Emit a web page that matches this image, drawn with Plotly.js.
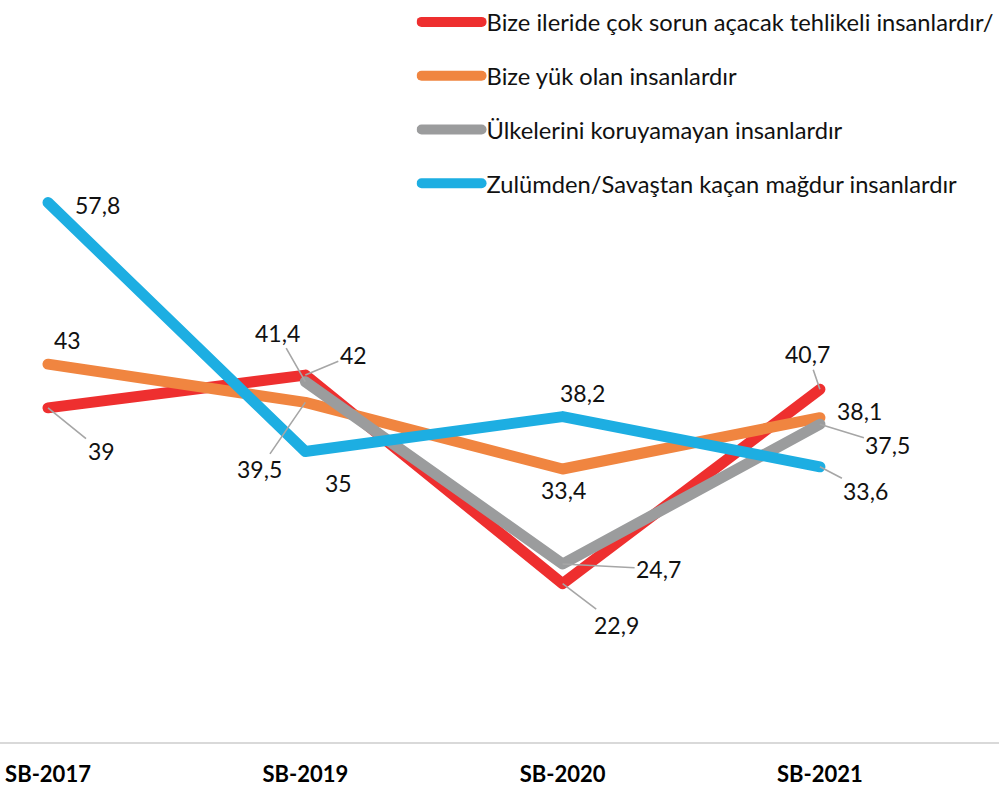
<!DOCTYPE html>
<html><head><meta charset="utf-8">
<script src="https://cdn.plot.ly/plotly-3.0.1.min.js"></script>
<style>
html,body{margin:0;padding:0;background:#fff;}
#chart{width:999px;height:789px;}
.scatterlayer .js-line{stroke-linecap:round!important;stroke-linejoin:round!important;}
.legend .js-line{stroke-linecap:round!important;}
</style></head><body><div id="chart"></div>
<script>
// ---- data ----
const categories = ['SB-2017', 'SB-2019', 'SB-2020', 'SB-2021'];
const seriesNames = [
  'Bize ileride çok sorun açacak tehlikeli insanlardır/',
  'Bize yük olan insanlardır',
  'Ülkelerini koruyamayan insanlardır',
  'Zulümden/Savaştan kaçan mağdur insanlardır'
];
const tehlikeli = [39, 42, 22.9, 40.7];
const yukOlan = [43, 39.5, 33.4, 38.1];
const koruyamayan = [null, 41.4, 24.7, 37.5];
const magdur = [57.8, 35, 38.2, 33.6];

// ---- style ----
const colors = ['#EE2F2F', '#F08540', '#9B9C9D', '#1DAEE2'];
const seriesValues = [tehlikeli, yukOlan, koruyamayan, magdur];
// label offsets in px relative to point [dx, dy, leader]
const labelOffsets = [
  [[53, 43, 1], [48, -20, 1], [54, 41, 1], [-12, -35, 1]],
  [[19, -24, 0], [-46, 67, 1], [1, 21, 0], [40, -7, 0]],
  [null, [-28, -49, 1], [96, 5, 1], [68, 21, 1]],
  [[49, 2, 0], [33, 31, 0], [20, -24, 0], [46, 24, 1]]
];

const traces = seriesValues.map((vals, s) => ({
  type: 'scatter', mode: 'lines',
  x: categories, y: vals, name: seriesNames[s],
  legendgroup: 'g' + s,
  connectgaps: false,
  line: {color: colors[s], width: 11},
  hoverinfo: 'skip'
}));

const annotations = [];
seriesValues.forEach((vals, s) => {
  vals.forEach((v, i) => {
    if (v === null || !labelOffsets[s][i]) return;
    const [dx, dy, leader] = labelOffsets[s][i];
    annotations.push({
      x: categories[i], y: v, xref: 'x', yref: 'y',
      text: String(v).replace('.', ','),
      showarrow: true, arrowhead: 0, arrowwidth: 1.6,
      arrowcolor: leader ? '#A6A6A6' : 'rgba(0,0,0,0)',
      ax: dx, ay: dy, axref: 'pixel', ayref: 'pixel', standoff: 0,
      font: {family: 'Lato, "Open Sans", sans-serif', size: 23, color: '#111'}
    });
  });
});

const layout = {
  width: 999, height: 789,
  margin: {l: 0, r: 0, t: 0, b: 47},
  paper_bgcolor: '#fff', plot_bgcolor: '#fff',
  showlegend: true,
  legend: {
    x: 0.417, xanchor: 'left', y: 1.0085, yanchor: 'top',
    font: {family: 'Lato, "Open Sans", sans-serif', size: 23.7, color: '#111'},
    bgcolor: 'rgba(0,0,0,0)', tracegroupgap: 20, itemwidth: 60,
    traceorder: 'grouped'
  },
  xaxis: {
    type: 'category', range: [-0.1866, 3.696],
    showline: true, linecolor: '#D9D9D9', linewidth: 2,
    showgrid: false, zeroline: false,
    ticks: 'outside', ticklen: 12, tickcolor: 'rgba(0,0,0,0)',
    tickfont: {family: 'Lato, "Open Sans", sans-serif', size: 22, color: '#000', weight: 'bold'}
  },
  yaxis: {
    range: [8.4, 75.8], visible: false, showgrid: false, zeroline: false
  },
  annotations: annotations
};

Plotly.newPlot('chart', traces, layout, {staticPlot: true, displayModeBar: false});
</script>
</body></html>
